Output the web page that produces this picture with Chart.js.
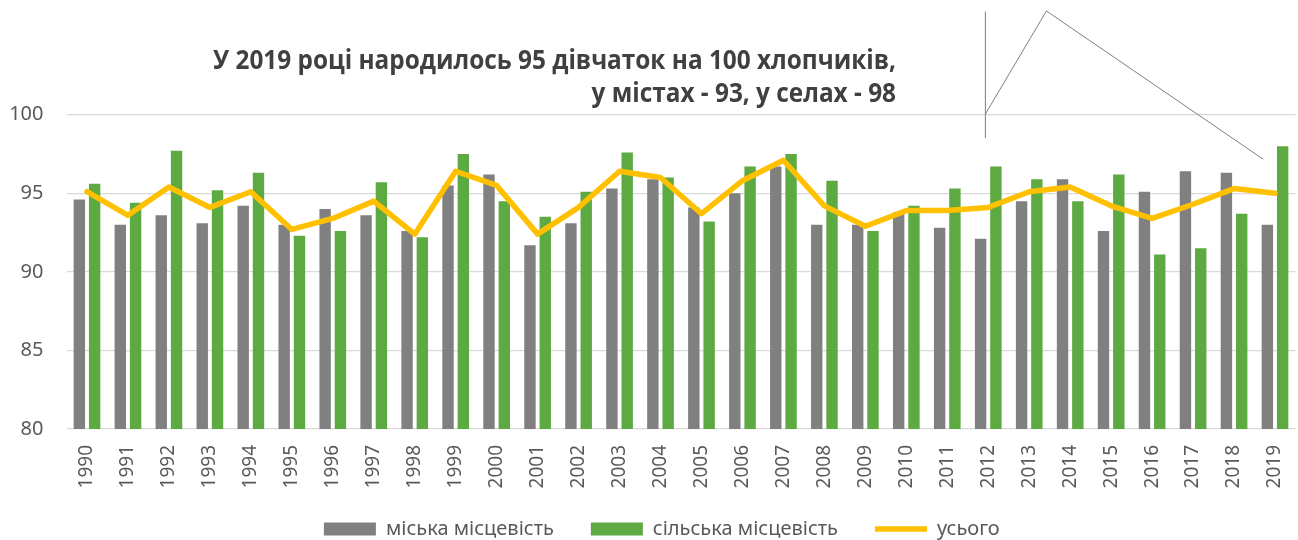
<!DOCTYPE html>
<html>
<head>
<meta charset="utf-8">
<script src="https://cdn.jsdelivr.net/npm/chart.js@4/dist/chart.umd.min.js"></script>
<style>
  html, body { margin: 0; padding: 0; background: #ffffff; }
  #wrap { width: 1298px; height: 540px; position: relative; }
</style>
</head>
<body>
<div id="wrap"><canvas id="c" width="1298" height="540"></canvas></div>
<script>
const years = ['1990','1991','1992','1993','1994','1995','1996','1997','1998','1999',
               '2000','2001','2002','2003','2004','2005','2006','2007','2008','2009',
               '2010','2011','2012','2013','2014','2015','2016','2017','2018','2019'];
const urban = [94.6, 93.0, 93.6, 93.1, 94.2, 93.0, 94.0, 93.6, 92.6, 95.5,
               96.2, 91.7, 93.1, 95.3, 95.9, 94.1, 95.0, 96.7, 93.0, 93.0,
               93.8, 92.8, 92.1, 94.5, 95.9, 92.6, 95.1, 96.4, 96.3, 93.0];
const rural = [95.6, 94.4, 97.7, 95.2, 96.3, 92.3, 92.6, 95.7, 92.2, 97.5,
               94.5, 93.5, 95.1, 97.6, 96.0, 93.2, 96.7, 97.5, 95.8, 92.6,
               94.2, 95.3, 96.7, 95.9, 94.5, 96.2, 91.1, 91.5, 93.7, 98.0];
const total = [95.1, 93.6, 95.4, 94.1, 95.1, 92.7, 93.4, 94.5, 92.4, 96.4,
               95.5, 92.4, 94.1, 96.4, 96.0, 93.7, 95.8, 97.1, 94.2, 92.9,
               93.9, 93.9, 94.1, 95.1, 95.4, 94.2, 93.4, 94.3, 95.3, 95.0];
const seriesNames = ['міська місцевість', 'сільська місцевість', 'усього'];
const yTicks = [80, 85, 90, 95, 100];
const titleLines = ['У 2019 році народилось 95 дівчаток на 100 хлопчиків,',
                    'у містах - 93, у селах - 98'];

const FONT = '"Noto Sans", "Open Sans", sans-serif';

const legendShift = {
  id: 'legendShift',
  afterLayout(chart) {
    const lg = chart.legend;
    if (lg) {
      lg.left += 14; lg.right += 14;
      lg.top -= 10; lg.bottom -= 10;
    }
  }
};

const titlePlugin = {
  id: 'titleText',
  afterDraw(chart) {
    const ctx = chart.ctx;
    ctx.save();
    ctx.font = 'bold 26.5px "Open Sans", "Noto Sans", sans-serif';
    ctx.fillStyle = '#404040';
    ctx.textAlign = 'right';
    ctx.textBaseline = 'alphabetic';
    const w = ctx.measureText(titleLines[0]).width;
    const sx = 683 / w;
    const rightX = 896;
    const baselines = [68.5, 101.8];
    titleLines.forEach((t, i) => {
      ctx.save();
      ctx.translate(rightX, baselines[i]);
      ctx.scale(sx, 1);
      ctx.fillText(t, 0, 0);
      ctx.restore();
    });
    // callout lines (decorative), positioned through the scales
    const xs = chart.scales.x, ys = chart.scales.y;
    const px = v => xs.getPixelForValue(v);
    const py = v => ys.getPixelForValue(v);
    ctx.strokeStyle = '#7f7f7f';
    ctx.lineWidth = 1;
    ctx.beginPath();
    ctx.moveTo(px(21.93), py(106.56));
    ctx.lineTo(px(21.93), py(98.51));
    ctx.stroke();
    ctx.beginPath();
    ctx.moveTo(px(21.93), py(100.04));
    ctx.lineTo(px(23.42), py(106.6));
    ctx.lineTo(px(28.71), py(97.17));
    ctx.stroke();
    ctx.restore();
  }
};

new Chart(document.getElementById('c'), {
  data: {
    labels: years,
    datasets: [
      {
        type: 'bar',
        label: seriesNames[0],
        data: urban,
        backgroundColor: '#808080',
        borderWidth: 0,
        categoryPercentage: 0.747,
        barPercentage: 0.745,
        pointStyle: 'rect',
        order: 1
      },
      {
        type: 'bar',
        label: seriesNames[1],
        data: rural,
        backgroundColor: '#5DAA43',
        borderWidth: 0,
        categoryPercentage: 0.747,
        barPercentage: 0.745,
        pointStyle: 'rect',
        order: 2
      },
      {
        type: 'line',
        label: seriesNames[2],
        data: total,
        borderColor: '#FFC000',
        backgroundColor: '#FFC000',
        borderWidth: 5.5,
        pointRadius: 0,
        pointHoverRadius: 0,
        pointStyle: 'line',
        tension: 0,
        borderJoinStyle: 'round',
        borderCapStyle: 'round',
        order: 0
      }
    ]
  },
  options: {
    responsive: false,
    animation: false,
    devicePixelRatio: 1,
    layout: { padding: { top: 114.7, right: 2.5, bottom: -19, left: 0 } },
    plugins: {
      title: { display: false },
      tooltip: { enabled: false },
      legend: {
        display: true,
        position: 'bottom',
        labels: {
          usePointStyle: true,
          pointStyleWidth: 52,
          boxHeight: 13,
          padding: 37,
          color: '#595959',
          font: { family: FONT, size: 20 },
          sort: (a, b) => a.datasetIndex - b.datasetIndex
        }
      }
    },
    scales: {
      x: {
        grid: { display: false, drawTicks: false },
        border: { display: false },
        ticks: {
          color: '#595959',
          font: { family: FONT, size: 19 },
          minRotation: 90,
          maxRotation: 90,
          padding: 16,
          autoSkip: false
        },
        afterFit(scale) {
          scale.height = 63;
          scale.paddingLeft = 0;
          scale.paddingRight = 0;
        }
      },
      y: {
        min: 80,
        max: 100,
        grid: { color: '#d9d9d9', lineWidth: 1.3, drawTicks: false },
        border: { display: false },
        afterBuildTicks(scale) { scale.ticks = yTicks.map(v => ({ value: v })); },
        ticks: {
          color: '#595959',
          font: { family: FONT, size: 20 },
          padding: 23
        },
        afterFit(scale) { scale.width = 66.5; }
      }
    }
  },
  plugins: [titlePlugin, legendShift]
});
</script>
</body>
</html>
